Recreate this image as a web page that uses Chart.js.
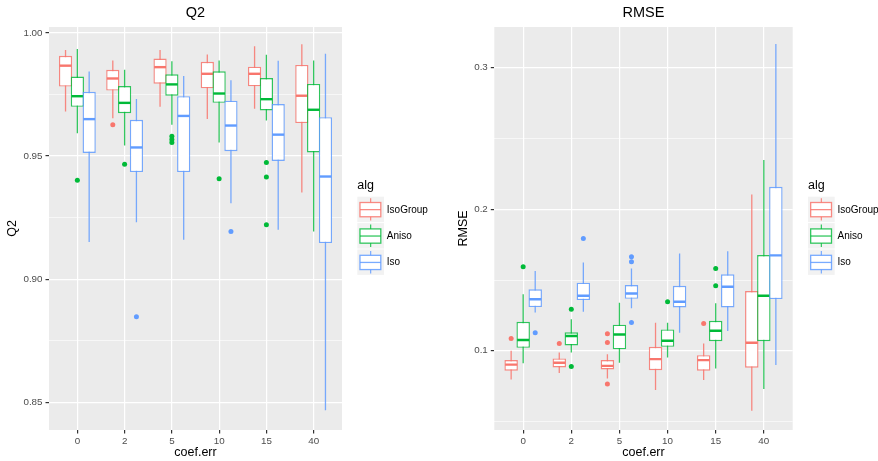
<!DOCTYPE html>
<html><head><meta charset="utf-8">
<script src="https://cdn.jsdelivr.net/npm/chart.js@4.4.0/dist/chart.umd.min.js"></script>
<style>
html,body{margin:0;padding:0;background:#fff;}
#wrap{position:relative;width:878px;height:461px;overflow:hidden;background:#fff;}
#c1{position:absolute;left:0;top:0;}
#c2{position:absolute;left:440px;top:0;}
</style></head><body>
<div id="wrap"><canvas id="c1" width="440" height="461"></canvas><canvas id="c2" width="438" height="461"></canvas></div>
<script>
// ---------- data ----------
const categories = ['0', '2', '5', '10', '15', '40'];
const seriesNames = ['IsoGroup', 'Aniso', 'Iso'];
const seriesColors = ['#F8766D', '#00BA38', '#619CFF'];
const seriesLineColors = ['rgba(248,118,109,0.85)', 'rgba(0,186,56,0.8)', 'rgba(97,156,255,0.85)'];

// per category: [lower whisker, Q1, median, Q3, upper whisker]
const q2IsoGroup = [[0.9681,0.9782,0.9867,0.9907,0.9931],[0.9654,0.9766,0.9815,0.9850,0.9888],[0.9700,0.9794,0.9861,0.9896,0.9931],[0.9651,0.9775,0.9834,0.9883,0.9912],[0.9692,0.9783,0.9834,0.9863,0.9946],[0.9352,0.9634,0.9745,0.9870,0.9954]];
const q2Aniso    = [[0.9593,0.9700,0.9743,0.9823,0.9935],[0.9543,0.9674,0.9716,0.9784,0.9850],[0.9627,0.9745,0.9791,0.9832,0.9885],[0.9555,0.9716,0.9754,0.9844,0.9888],[0.9644,0.9685,0.9731,0.9817,0.9911],[0.9194,0.9515,0.9688,0.9793,0.9888]];
const q2Iso      = [[0.9151,0.9513,0.9650,0.9761,0.9843],[0.9231,0.9435,0.9535,0.9647,0.9732],[0.9160,0.9435,0.9663,0.9743,0.9825],[0.9309,0.9520,0.9624,0.9725,0.9808],[0.9201,0.9480,0.9587,0.9711,0.9887],[0.8468,0.9147,0.9417,0.9658,0.9915]];
const q2IsoGroupOut = [[],[0.9627],[],[],[],[]];
const q2AnisoOut    = [[0.9402],[0.9467],[0.9580,0.9567,0.9555],[0.9408],[0.9474,0.9415,0.9221],[]];
const q2IsoOut      = [[],[0.8848],[],[0.9194],[],[]];

const rmseIsoGroup = [[0.0797,0.0859,0.0902,0.0934,0.1000],[0.0842,0.0882,0.0915,0.0946,0.0988],[0.0804,0.0868,0.0893,0.0934,0.0976],[0.0722,0.0863,0.0941,0.1028,0.1198],[0.0793,0.0859,0.0934,0.0969,0.1052],[0.0576,0.0880,0.1057,0.1422,0.2105]];
const rmseAniso    = [[0.0911,0.1021,0.1076,0.1205,0.1400],[0.0988,0.1037,0.1104,0.1130,0.1222],[0.0915,0.1010,0.1115,0.1184,0.1339],[0.0953,0.1028,0.1071,0.1151,0.1198],[0.0875,0.1068,0.1141,0.1212,0.1335],[0.0729,0.1068,0.1389,0.1676,0.2348]];
const rmseIso      = [[0.1270,0.1309,0.1364,0.1434,0.1563],[0.1276,0.1358,0.1389,0.1481,0.1624],[0.1300,0.1367,0.1405,0.1464,0.1582],[0.1127,0.1306,0.1346,0.1459,0.1688],[0.1139,0.1306,0.1452,0.1540,0.1704],[0.0899,0.1365,0.1674,0.2159,0.3167]];
const rmseIsoGroupOut = [[0.1087],[0.1052],[0.1121,0.1059,0.0765],[],[0.1193],[]];
const rmseAnisoOut    = [[0.1594],[0.1293,0.0888],[],[0.1346],[0.1582,0.1459],[]];
const rmseIsoOut      = [[0.1128],[0.1794],[0.1664,0.1629,0.1199],[],[],[]];

const q2Ticks = [0.85, 0.875, 0.90, 0.925, 0.95, 0.975, 1.00];
const q2TickLabels = ['0.85', '', '0.90', '', '0.95', '', '1.00'];
const q2Range = [0.8388, 1.0024];
const rmseTicks = [0.05, 0.10, 0.15, 0.20, 0.25, 0.30];
const rmseTickLabels = ['', '0.1', '', '0.2', '', '0.3'];
const rmseRange = [0.0440, 0.3288];

// ---------- helpers ----------
const FONT = '"Liberation Sans", Arial, Helvetica, sans-serif';
Chart.defaults.font.family = FONT;
const DODGE = 0.25;      // spacing between dodged boxes (category units)
const BOXW = 1.12;       // box width relative to the dodge spacing

function buildDatasets(summaries, outliers) {
  const ds = [];
  summaries.forEach((stats, s) => {
    const off = (s - 1) * DODGE;
    const col = seriesColors[s];
    const lcol = seriesLineColors[s];
    const base = 40 - s * 10;
    const wh = [];
    stats.forEach((st, i) => {
      wh.push({x: i + off, y: st[0]}, {x: i + off, y: st[4]}, {x: i + off, y: null});
    });
    ds.push({type: 'line', label: seriesNames[s] + ' whisker', data: wh, borderColor: lcol, borderWidth: 1.3,
      pointRadius: 0, spanGaps: false, fill: false, tension: 0, order: base + 3});
    ds.push({type: 'bar', label: seriesNames[s], data: stats.map((st, i) => ({x: i + off, y: [st[1], st[3]]})),
      backgroundColor: '#FFFFFF', borderColor: lcol, borderWidth: 1.4, borderSkipped: false, inflateAmount: 0,
      grouped: false, categoryPercentage: 1, barPercentage: BOXW, order: base + 2});
    ds.push({type: 'scatter', label: seriesNames[s] + ' median', data: stats.map((st, i) => ({x: i + off, y: st[2]})),
      pointStyle: 'line', borderColor: col, backgroundColor: col, pointBorderWidth: 2.4, pointHoverRadius: 0,
      pointRadius: (ctx) => {
        const xs = ctx.chart.scales.x;
        return Math.abs(xs.getPixelForValue(DODGE * BOXW / 2) - xs.getPixelForValue(0)) - 0.7;
      }, order: base + 1});
    const od = [];
    outliers[s].forEach((vals, i) => vals.forEach(v => od.push({x: i + off, y: v})));
    ds.push({type: 'scatter', label: seriesNames[s] + ' outliers', data: od, backgroundColor: col, borderColor: col,
      pointRadius: 2.5, pointBorderWidth: 0, order: base});
  });
  return ds;
}

const panelBg = {
  id: 'panelBg',
  beforeDraw(chart) {
    const a = chart.chartArea, ctx = chart.ctx;
    ctx.save();
    ctx.fillStyle = '#EBEBEB';
    ctx.fillRect(a.left, a.top, a.right - a.left, a.bottom - a.top);
    ctx.restore();
  }
};

const boxLegend = {
  id: 'boxLegend',
  afterDraw(chart) {
    const ctx = chart.ctx, a = chart.chartArea;
    const x0 = a.right + 15.3;
    const mid = (a.top + a.bottom) / 2;
    const kw = 26.7, kh = 26.4;
    const ky0 = mid - 31.8;
    ctx.save();
    ctx.fillStyle = '#000000';
    ctx.font = '12.5px ' + FONT;
    ctx.textBaseline = 'middle';
    ctx.textAlign = 'left';
    ctx.fillText('alg', x0, ky0 - 11.5);
    seriesNames.forEach((name, s) => {
      const ky = ky0 + s * kh;
      const col = seriesLineColors[s];
      ctx.fillStyle = '#F2F2F2';
      ctx.fillRect(x0, ky, kw, kh - 1);
      const cx = x0 + kw / 2;
      ctx.strokeStyle = col;
      ctx.lineWidth = 1.2;
      ctx.beginPath();
      ctx.moveTo(cx, ky + 1.5); ctx.lineTo(cx, ky + kh - 2.5);
      ctx.stroke();
      const bx = x0 + kw * 0.1, bw = kw * 0.78, by = ky + kh * 0.22, bh = kh * 0.54;
      ctx.fillStyle = '#FFFFFF';
      ctx.fillRect(bx, by, bw, bh);
      ctx.lineWidth = 1.3;
      ctx.strokeRect(bx, by, bw, bh);
      ctx.beginPath();
      ctx.moveTo(bx, by + bh / 2); ctx.lineTo(bx + bw, by + bh / 2);
      ctx.stroke();
      ctx.fillStyle = '#000000';
      ctx.font = '10px ' + FONT;
      ctx.fillText(name, x0 + kw + 2.8, ky + kh / 2);
    });
    ctx.restore();
  }
};

function makeChart(canvasId, cfg) {
  const majorIdx = (i) => cfg.tickLabels[i] !== '';
  return new Chart(document.getElementById(canvasId), {
    type: 'bar',
    data: {datasets: buildDatasets(cfg.summaries, cfg.outliers)},
    plugins: [panelBg, boxLegend],
    options: {
      responsive: false,
      animation: false,
      events: [],
      layout: {padding: {left: cfg.padLeft, right: cfg.padRight, top: 0, bottom: 0}},
      plugins: {
        legend: {display: false},
        tooltip: {enabled: false},
        title: {display: true, text: cfg.title, color: '#000000', fullSize: false,
          font: {size: 14.5, weight: 'normal', family: FONT, lineHeight: 1.2},
          padding: {top: 4.3, bottom: 5.3}}
      },
      scales: {
        x: {
          type: 'linear', min: -0.6, max: 5.6, offset: false,
          afterBuildTicks: (sc) => { sc.ticks = categories.map((c, i) => ({value: i})); },
          afterFit: (sc) => { sc.height = 31; },
          ticks: {autoSkip: false, maxRotation: 0, color: '#4D4D4D', padding: 1.6,
            font: {size: 9.8, family: FONT},
            callback: (v, i) => categories[i]},
          grid: {color: '#FFFFFF', lineWidth: 1.2, tickColor: '#333333', tickLength: 3.5, offset: false, drawTicks: true},
          border: {display: false},
          title: {display: true, text: 'coef.err', color: '#000000',
            font: {size: 12.5, family: FONT, lineHeight: 1.2}, padding: {top: 0, bottom: 0.8}}
        },
        y: {
          type: 'linear', min: cfg.range[0], max: cfg.range[1], beginAtZero: false, bounds: 'data',
          afterBuildTicks: (sc) => { sc.ticks = cfg.ticks.map(v => ({value: v})); },
          afterFit: (sc) => { sc.width = cfg.yWidth; },
          ticks: {autoSkip: false, color: '#4D4D4D', padding: 3,
            font: {size: 9.8, family: FONT},
            callback: (v, i) => cfg.tickLabels[i]},
          grid: {
            color: '#FFFFFF',
            lineWidth: (c) => majorIdx(c.index) ? 1.2 : 0.6,
            tickColor: (c) => majorIdx(c.index) ? '#333333' : 'rgba(0,0,0,0)',
            tickLength: 3.5, drawTicks: true
          },
          border: {display: false},
          title: {display: true, text: cfg.yTitle, color: '#000000',
            font: {size: 12.5, family: FONT, lineHeight: 1.2}, padding: {top: 5.5, bottom: 0}}
        }
      }
    }
  });
}

makeChart('c1', {
  title: 'Q2', yTitle: 'Q2',
  summaries: [q2IsoGroup, q2Aniso, q2Iso],
  outliers: [q2IsoGroupOut, q2AnisoOut, q2IsoOut],
  ticks: q2Ticks, tickLabels: q2TickLabels, range: q2Range,
  padLeft: 0, padRight: 98, yWidth: 49
});
makeChart('c2', {
  title: 'RMSE', yTitle: 'RMSE',
  summaries: [rmseIsoGroup, rmseAniso, rmseIso],
  outliers: [rmseIsoGroupOut, rmseAnisoOut, rmseIsoOut],
  ticks: rmseTicks, tickLabels: rmseTickLabels, range: rmseRange,
  padLeft: 10.3, padRight: 85.3, yWidth: 44
});
</script>
</body></html>
